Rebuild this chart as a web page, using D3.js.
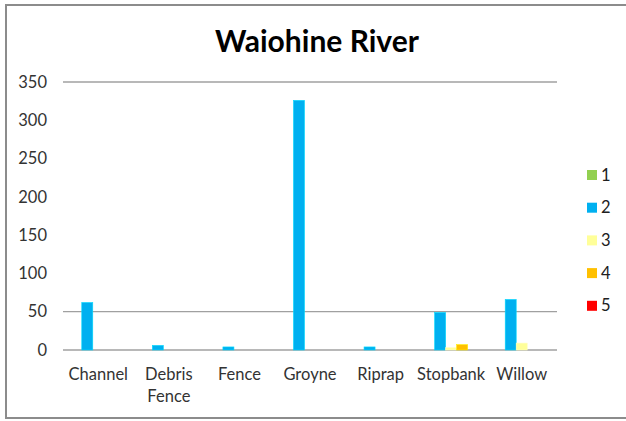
<!DOCTYPE html>
<html>
<head>
<meta charset="utf-8">
<script src="https://cdn.jsdelivr.net/npm/d3@7"></script>
<style>
  body { margin: 0; background: #fff; }
  #chart { width: 626px; height: 421px; }
  text { font-family: Lato, "Open Sans", sans-serif; }
</style>
</head>
<body>
<div id="chart"></div>
<script>
// data
var categories = ["Channel", "Debris Fence", "Fence", "Groyne", "Riprap", "Stopbank", "Willow"];
var seriesNames = ["1", "2", "3", "4", "5"];
var seriesColors = ["#92D050", "#00B0F0", "#FFFF99", "#FFC000", "#FF0000"];
var series1 = [0, 0, 0, 0, 0, 0, 0];
var series2 = [62, 6, 4, 326, 4, 49, 66];
var series3 = [0, 0, 0, 0, 0, 3, 9];
var series4 = [0, 0, 0, 0, 0, 7, 0];
var series5 = [0, 0, 0, 0, 0, 0, 0];
var yTicks = [0, 50, 100, 150, 200, 250, 300, 350];
var gridValues = [0, 50, 350];

var allSeries = [series1, series2, series3, series4, series5];

var W = 626, H = 421;
var margin = { top: 82, right: 69, bottom: 71, left: 63 };
var width = W - margin.left - margin.right,
    height = H - margin.top - margin.bottom;

var svg = d3.select("#chart")
    .append("svg")
    .attr("width", W)
    .attr("height", H);

// outer frame
svg.append("rect")
    .attr("x", 6)
    .attr("y", 5)
    .attr("width", 640)
    .attr("height", 413)
    .attr("fill", "none")
    .attr("stroke", "#8c8c8c")
    .attr("stroke-width", 2);

// title
svg.append("text")
    .attr("x", 317)
    .attr("y", 52)
    .attr("text-anchor", "middle")
    .style("font-size", "30px")
    .style("font-weight", "bold")
    .attr("fill", "#000")
    .text("Waiohine River");

var g = svg.append("g")
    .attr("transform", "translate(" + margin.left + "," + margin.top + ")");

var x = d3.scaleBand()
    .domain(categories)
    .range([0, width]);

var y = d3.scaleLinear()
    .domain([0, 350])
    .range([height, 0]);

var barW = x.bandwidth() * 0.156;
var xs = d3.scaleBand()
    .domain(seriesNames)
    .range([x.bandwidth() / 2 - barW * 2.5, x.bandwidth() / 2 + barW * 2.5]);

// grid lines
g.selectAll(".grid")
    .data(gridValues)
    .enter()
    .append("line")
    .attr("x1", 0)
    .attr("x2", width)
    .attr("y1", function (d) { return y(d); })
    .attr("y2", function (d) { return y(d); })
    .attr("stroke", "#a0a0a0")
    .attr("stroke-width", 1.3);

// y axis labels
var yAxis = g.append("g")
    .call(d3.axisLeft(y).tickValues(yTicks).tickSize(0).tickPadding(16));
yAxis.select(".domain").remove();
yAxis.selectAll("text")
    .style("font-size", "16.5px")
    .style("font-family", "Lato, sans-serif")
    .attr("fill", "#333");

// x axis labels
var xAxis = g.append("g")
    .attr("transform", "translate(0," + height + ")")
    .call(d3.axisBottom(x).tickSize(0).tickPadding(0));
xAxis.select(".domain").remove();
xAxis.selectAll(".tick text").remove();
xAxis.selectAll(".tick")
    .each(function (d) {
        var t = d3.select(this).append("text")
            .attr("text-anchor", "middle")
            .attr("fill", "#333")
            .style("font-size", "16.5px")
            .style("font-family", "Lato, sans-serif");
        d.split(" ").forEach(function (word, i) {
            t.append("tspan")
                .attr("x", 0)
                .attr("y", 30 + i * 21.5)
                .text(word);
        });
    });

// bars
allSeries.forEach(function (vals, si) {
    g.selectAll(".bar" + si)
        .data(vals)
        .enter()
        .append("rect")
        .attr("x", function (d, i) { return x(categories[i]) + xs(seriesNames[si]); })
        .attr("y", function (d) { return y(d); })
        .attr("width", xs.bandwidth())
        .attr("height", function (d) { return height - y(d); })
        .attr("fill", seriesColors[si])
        .attr("stroke", d3.color(seriesColors[si]).brighter(0.6))
        .attr("stroke-width", d => d > 0 ? 0.6 : 0);
});

// legend
var legend = svg.append("g")
    .attr("transform", "translate(587,170)");
seriesNames.forEach(function (name, i) {
    var row = legend.append("g")
        .attr("transform", "translate(0," + (i * 32.7) + ")");
    row.append("rect")
        .attr("width", 10)
        .attr("height", 10)
        .attr("fill", seriesColors[i]);
    row.append("text")
        .attr("x", 14)
        .attr("y", 10.5)
        .attr("fill", "#202020")
        .style("font-size", "16.5px")
        .text(name);
});
</script>
</body>
</html>
